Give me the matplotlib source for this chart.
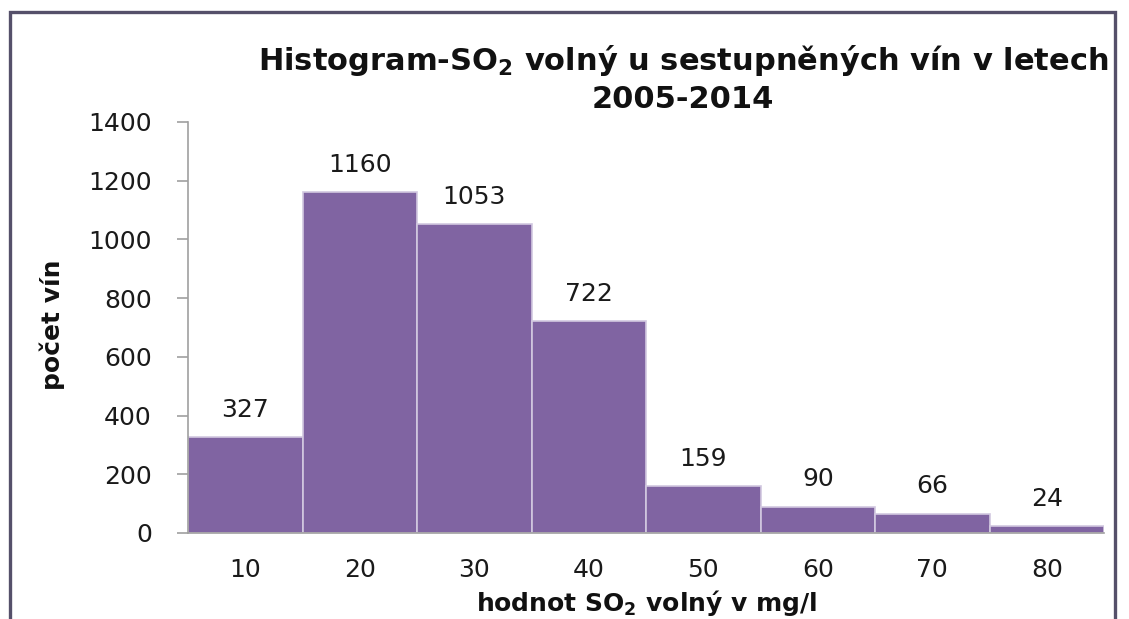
import matplotlib
matplotlib.use("Agg")
import matplotlib.pyplot as plt
from matplotlib.patches import Rectangle

plt.rcParams["mathtext.default"] = "regular"

categories = ["10", "20", "30", "40", "50", "60", "70", "80"]
counts = [327, 1160, 1053, 722, 159, 90, 66, 24]
y_ticks = [0, 200, 400, 600, 800, 1000, 1200, 1400]

W, H = 1129, 619
fig = plt.figure(figsize=(W / 100, H / 100), dpi=100)
fig.patch.set_facecolor("white")

# chart border (bottom edge cut off in reference)
border = Rectangle((10 / W, -0.05), (1115 - 10) / W, 1 - 12 / H + 0.05,
                   transform=fig.transFigure, fill=False,
                   edgecolor="#55506a", linewidth=2.4)
fig.add_artist(border)

left, right, top, bottom = 188, 1104, 122, 533
ax = fig.add_axes([left / W, 1 - bottom / H, (right - left) / W, (bottom - top) / H])

x = list(range(len(categories)))
ax.bar(x, counts, width=1.0, color="#8064A2", edgecolor="#d2c8e0",
       linewidth=1.2, align="center")
ax.set_xlim(-0.5, len(categories) - 0.5)
ax.set_ylim(0, 1400)

for xi, v in zip(x, counts):
    ax.annotate(str(v), (xi, v), xytext=(0, 11), textcoords="offset points",
                ha="center", va="bottom", fontsize=18, color="#1a1a1a")

ax.set_yticks(y_ticks)
ax.set_yticklabels([str(t) for t in y_ticks], fontsize=18, color="#1a1a1a")
ax.set_xticks(x)
ax.set_xticklabels(categories, fontsize=18, color="#1a1a1a")

for s in ["top", "right"]:
    ax.spines[s].set_visible(False)
for s in ["left", "bottom"]:
    ax.spines[s].set_color("#a0a0a0")
    ax.spines[s].set_linewidth(1.2)

ax.tick_params(axis="y", direction="out", length=8, width=1.2, color="#a0a0a0", pad=18)
ax.tick_params(axis="x", length=0, pad=18)

fig.text(683 / W, 1 - 60 / H, "Histogram-SO$_2$ volný u sestupněných vín v letech",
         ha="center", va="center", fontsize=22, fontweight="bold", color="#111111")
fig.text(683 / W, 1 - 99 / H, "2005-2014",
         ha="center", va="center", fontsize=22, fontweight="bold", color="#111111")

fig.text(646 / W, 1 - 603 / H, "hodnot SO$_2$ volný v mg/l",
         ha="center", va="center", fontsize=18, fontweight="bold", color="#111111")
fig.text(52 / W, 1 - 325 / H, "počet vín", rotation=90,
         ha="center", va="center", fontsize=18, fontweight="bold", color="#111111")

fig.savefig("out.png", dpi=100, facecolor="white")
